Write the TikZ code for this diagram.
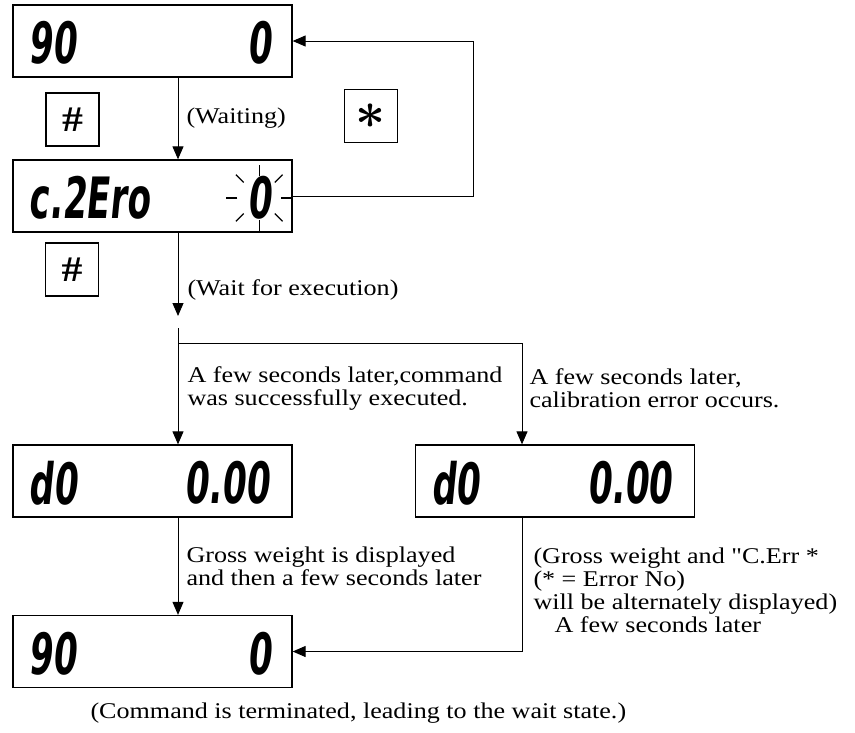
\documentclass[tikz,border=0pt]{standalone}
\usepackage{fontspec}
\usepackage{graphicx}
\setmainfont{Liberation Serif}[FakeStretch=1.16,Ligatures=TeXOff]
\newfontfamily\segfont{DejaVu Sans}[FakeStretch=0.6,FakeSlant=0.1]
\usetikzlibrary{arrows.meta,calc}

\tikzset{
 disp/.style={draw,line width=1.3pt,minimum width=279pt,minimum height=72pt,inner sep=0pt},
 seg/.style={inner sep=0pt,font=\fontsize{57}{57}\segfont\bfseries},
 keybox/.style={draw,line width=1.2pt,minimum size=53pt,inner sep=0pt,font=\fontsize{36}{36}\selectfont},
 lbl/.style={anchor=west,align=left,inner sep=0pt,font=\fontsize{22.5}{23}\selectfont},
}

\begin{document}
\begin{tikzpicture}[x=1pt,y=-1pt,>={Triangle[length=13pt,width=11pt]},line width=1pt]
 \useasboundingbox (0,0) rectangle (855,732);
 % display windows
 \node[disp] (wait1) at (152.5,41) {};
 \node[disp] (zero) at (152.5,196) {};
 \node[disp] (okD) at (152.5,481) {};
 \node[disp] (errD) at (555,481) {};
 \node[disp] (wait2) at (152.5,651.5) {};
 % what the windows show
 \node[seg,anchor=west] (wait1L) at ($(wait1.west)+(16,2)$) {90};
 \node[seg,anchor=east] (wait1R) at ($(wait1.east)+(-21,2)$) {0};
 \node[seg,anchor=west] (zeroL) at ($(zero.west)+(16,2)$) {c.2Ero};
 \node[seg,anchor=east] (zeroR) at ($(zero.east)+(-21,2)$) {0};
 \node[seg,anchor=west] (okDL) at ($(okD.west)+(16,2)$) {d0};
 \node[seg,anchor=east] (okDR) at ($(okD.east)+(-23,2)$) {0.00};
 \node[seg,anchor=west] (errDL) at ($(errD.west)+(16,2)$) {d0};
 \node[seg,anchor=east] (errDR) at ($(errD.east)+(-23,2)$) {0.00};
 \node[seg,anchor=west] (wait2L) at ($(wait2.west)+(16,2)$) {90};
 \node[seg,anchor=east] (wait2R) at ($(wait2.east)+(-21,2)$) {0};
 % blinking digit
 \foreach \a in {0,45,...,315}
  \draw[line width=1.2pt] ($(zeroR.center)+(\a:22)$) -- ($(zeroR.center)+(\a:33)$);
 % keys
 \node[keybox] (kHash1) at (72.5,119.5) {\textbf{\#}};
 \node[keybox] (kStar) at (371,116) {\scalebox{2.1}{\boldmath$\ast$}};
 \node[keybox] (kHash2) at (72,269.5) {\textbf{\#}};
 % connectors
 \coordinate (colA) at (178,0);
 \coordinate (colB) at (522,0);
 \coordinate (loopR) at (473,0);
 \coordinate (waitEnd) at (178,316);
 \coordinate (fork) at (178,328);
 \coordinate (split) at (178,343);
 \draw[->] (wait1.south -| colA) -- (zero.north -| colA);
 \draw[->] (zero.east) -- (zero.east -| loopR) -- (wait1.east -| loopR) -- (wait1.east);
 \draw[->] (zero.south -| colA) -- (waitEnd);
 \draw[->] (fork) -- (okD.north -| colA);
 \draw[->] (split) -| (errD.north -| colB);
 \draw[->] (okD.south -| colA) -- (wait2.north -| colA);
 \draw[->] (errD.south -| colB) |- (wait2.east);
 % labels
 \node[lbl] (lWait) at (186,118) {(Waiting)};
 \node[lbl] (lExec) at (187,290) {(Wait for execution)};
 \node[lbl] (lOk) at (187,388) {A few seconds later,command\\was successfully executed.};
 \node[lbl] (lErr) at (529,388) {A few seconds later,\\calibration error occurs.};
 \node[lbl] (lGross) at (186,566) {Gross weight is displayed\\and then a few seconds later};
 \node[lbl] (lAlt) at (533,590) {(Gross weight and "C.Err *\\(* = Error No)\\will be alternately displayed)\\\hspace*{21pt}A few seconds later};
 \node[lbl] (lEnd) at (90,713) {(Command is terminated, leading to the wait state.)};
\end{tikzpicture}
\end{document}
